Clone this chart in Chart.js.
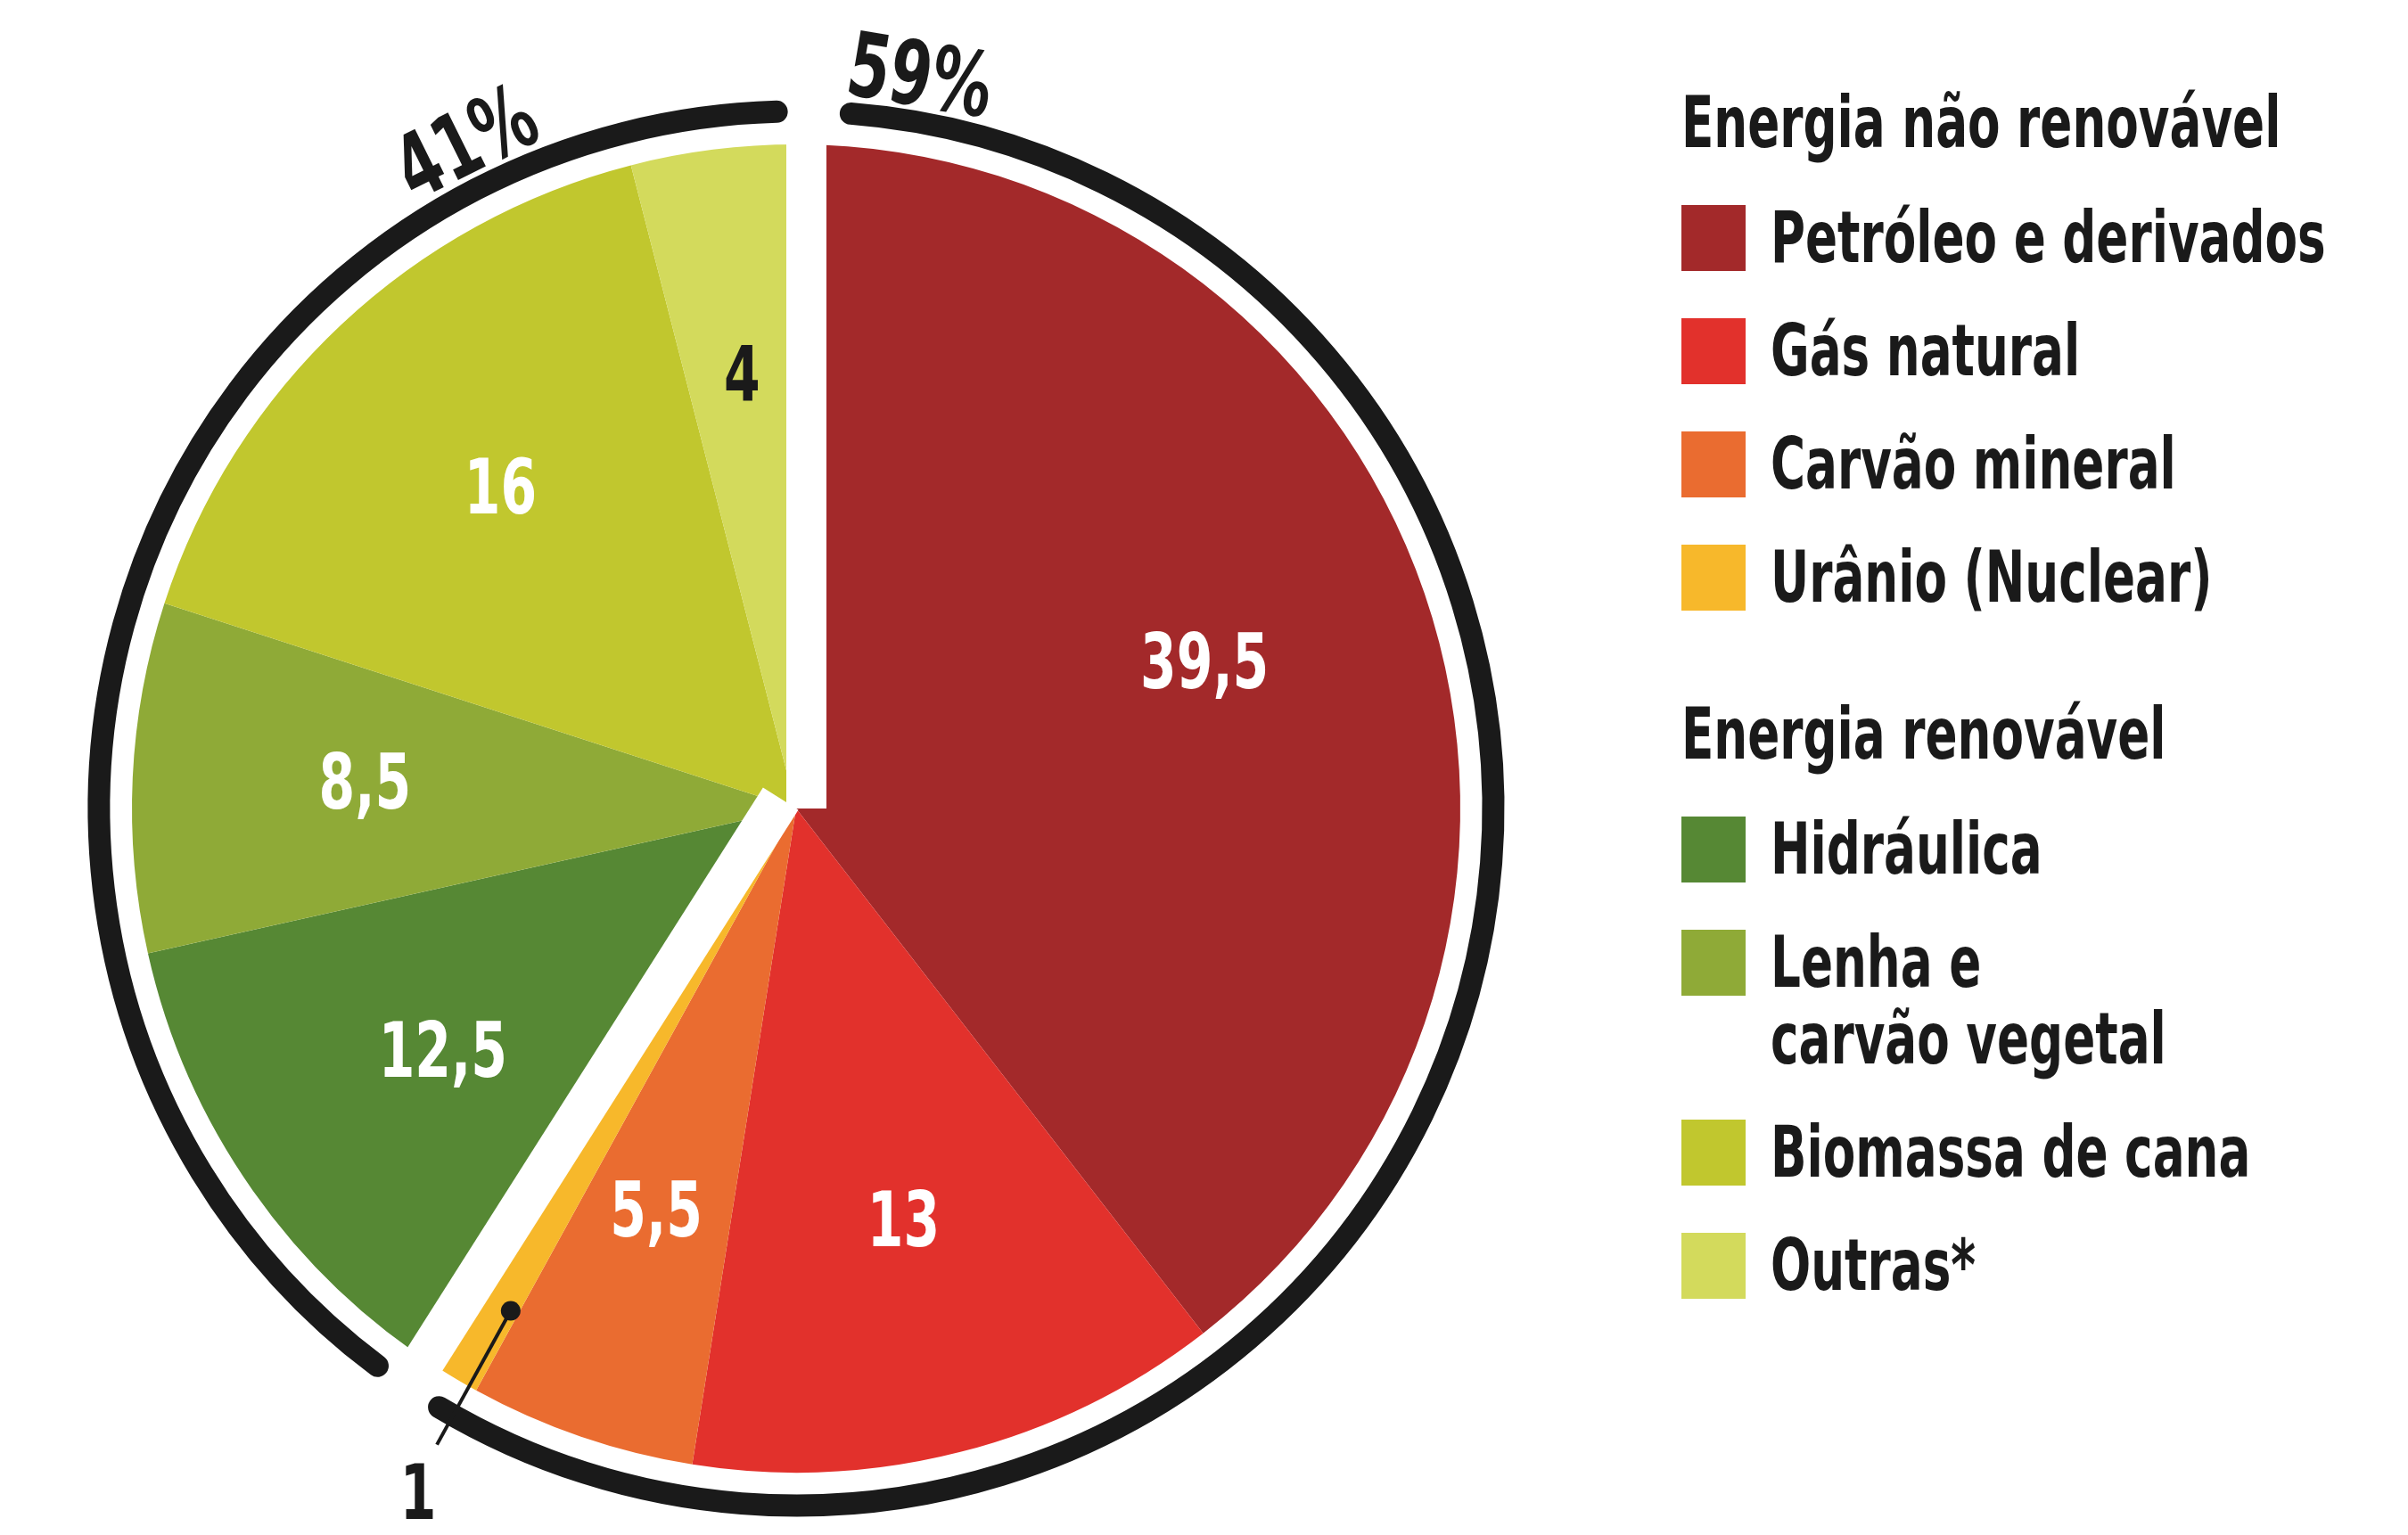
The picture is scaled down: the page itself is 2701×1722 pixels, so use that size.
<!DOCTYPE html>
<html>
<head>
<meta charset="utf-8">
<script src="https://cdn.jsdelivr.net/npm/chart.js@4.4.1/dist/chart.umd.min.js"></script>
<style>
  html, body { margin: 0; padding: 0; background: #fff; }
  body { width: 2701px; height: 1722px; position: relative; overflow: hidden; }
  #chart { position: absolute; left: 0; top: 0; }
  #legend {
    position: absolute; left: 1886px; top: 95px;
    font-family: "DejaVu Sans", "Liberation Sans", sans-serif;
    font-weight: bold; color: #1a1a1a; font-size: 80px;
  }
  .head { line-height: 86px; height: 86px; margin-bottom: 43px; }
  .head.second { margin-top: 90px; }
  .row { display: flex; align-items: flex-start; margin-bottom: 41px; }
  .sw { width: 72px; height: 74px; margin-top: 6px; flex: none; }
  .txt { margin-left: 28px; line-height: 86px; }
  .cond { display: inline-block; white-space: pre; transform: scaleX(0.665); transform-origin: 0 0; }
</style>
</head>
<body>
<canvas id="chart" width="2701" height="1722"></canvas>
<div id="legend"></div>
<script>
// dados: matriz energética (%)
const labels = ['Petróleo e derivados', 'Gás natural', 'Carvão mineral', 'Urânio (Nuclear)',
                'Hidráulica', 'Lenha e\ncarvão vegetal', 'Biomassa de cana', 'Outras*'];
const values = [39.5, 13, 5.5, 1, 12.5, 8.5, 16, 4];
const groupNames = ['Energia não renovável', 'Energia renovável'];
const groupOf = [0, 0, 0, 0, 1, 1, 1, 1];
const groupTotals = [59, 41];

const colors = ['#a3292a', '#e2312c', '#ea6c30', '#f7b82b', '#568834', '#8faa37', '#c1c72e', '#d3da5c'];
const inkColors = ['#fff', '#fff', '#fff', '#1a1a1a', '#fff', '#fff', '#fff', '#1a1a1a'];
const FONT = '"DejaVu Sans", "Liberation Sans", sans-serif';
const INK = '#1a1a1a';
const NARROW = 0.68;   // fonte condensada simulada

const fmt = v => v.toLocaleString('pt-BR');

// legenda em HTML, com os dois grupos
const legend = document.getElementById('legend');
const condText = (el, s) => {
    const sp = document.createElement('span');
    sp.className = 'cond';
    sp.textContent = s;
    el.appendChild(sp);
};
groupNames.forEach((g, gi) => {
    const h = document.createElement('div');
    h.className = 'head' + (gi > 0 ? ' second' : '');
    condText(h, g);
    legend.appendChild(h);
    labels.forEach((lab, i) => {
        if (groupOf[i] !== gi) return;
        const row = document.createElement('div');
        row.className = 'row';
        const sw = document.createElement('div');
        sw.className = 'sw';
        sw.style.background = colors[i];
        const t = document.createElement('div');
        t.className = 'txt';
        condText(t, lab);
        row.appendChild(sw);
        row.appendChild(t);
        legend.appendChild(row);
    });
});

const deg = Math.PI / 180;

function narrowText(ctx, s, x, y, rot) {
    ctx.save();
    ctx.translate(x, y);
    if (rot) ctx.rotate(rot);
    ctx.scale(NARROW, 1);
    ctx.fillText(s, 0, 0);
    ctx.restore();
}

// separa os grupos, desenha o arco preto e os rótulos
const pieDecor = {
    id: 'pieDecor',
    afterDatasetsDraw(chart) {
        const ctx = chart.ctx;
        const arcs = chart.getDatasetMeta(0).data;
        const cx = arcs[0].x, cy = arcs[0].y, R = arcs[0].outerRadius;
        const firstOf = gi => groupOf.indexOf(gi);
        const lastOf = gi => groupOf.lastIndexOf(gi);
        const starts = [arcs[firstOf(0)].startAngle, arcs[firstOf(1)].startAngle];

        ctx.save();
        // faixas brancas entre os grupos (deslocadas para o lado da fatia seguinte)
        const stripEdges = [[-11, 34], [-3, 44]];
        ctx.fillStyle = '#fff';
        starts.forEach((a, k) => {
            const [lo, hi] = stripEdges[k];
            const dx = Math.cos(a), dy = Math.sin(a);
            const nx = -dy, ny = dx;
            const len = R + 15;
            ctx.beginPath();
            ctx.moveTo(cx + nx * lo, cy + ny * lo);
            ctx.lineTo(cx + nx * hi, cy + ny * hi);
            ctx.lineTo(cx + nx * hi + dx * len, cy + ny * hi + dy * len);
            ctx.lineTo(cx + nx * lo + dx * len, cy + ny * lo + dy * len);
            ctx.closePath();
            ctx.fill();
        });

        // arcos pretos de cada grupo
        const ringR = R + 37;
        const gapAfter = 4.5 * deg, gapBefore = 1.6 * deg;
        ctx.strokeStyle = INK;
        ctx.lineWidth = 25;
        ctx.lineCap = 'round';
        [0, 1].forEach(gi => {
            ctx.beginPath();
            ctx.arc(cx, cy, ringR, arcs[firstOf(gi)].startAngle + gapAfter, arcs[lastOf(gi)].endAngle - gapBefore);
            ctx.stroke();
        });

        // totais dos grupos, ao longo do arco
        ctx.fillStyle = INK;
        ctx.font = 'bold 100px ' + FONT;
        ctx.textAlign = 'center';
        ctx.textBaseline = 'alphabetic';
        const totalAngles = [arcs[firstOf(0)].startAngle + 9.6 * deg, arcs[lastOf(1)].endAngle - 26.4 * deg];
        groupTotals.forEach((v, gi) => {
            const a = totalAngles[gi];
            const rr = R + 55;
            narrowText(ctx, v + '%', cx + Math.cos(a) * rr, cy + Math.sin(a) * rr, a + Math.PI / 2);
        });

        // valores nas fatias
        ctx.font = 'bold 86px ' + FONT;
        ctx.textBaseline = 'middle';
        arcs.forEach((arc, i) => {
            const mid = (arc.startAngle + arc.endAngle) / 2;
            if (values[i] < 2) {
                // fatia pequena: ponto, linha e rótulo por fora
                const a0 = mid - 1.0 * deg, a1 = mid - 1.15 * deg, a2 = mid - 1.9 * deg;
                const p0 = [cx + Math.cos(a0) * R * 0.87, cy + Math.sin(a0) * R * 0.87];
                const p1 = [cx + Math.cos(a1) * R * 1.1, cy + Math.sin(a1) * R * 1.1];
                ctx.strokeStyle = INK;
                ctx.lineWidth = 4;
                ctx.lineCap = 'butt';
                ctx.beginPath();
                ctx.moveTo(p0[0], p0[1]);
                ctx.lineTo(p1[0], p1[1]);
                ctx.stroke();
                ctx.beginPath();
                ctx.arc(p0[0], p0[1], 11, 0, 2 * Math.PI);
                ctx.fillStyle = INK;
                ctx.fill();
                narrowText(ctx, fmt(values[i]), cx + Math.cos(a2) * R * 1.185, cy + Math.sin(a2) * R * 1.185);
                return;
            }
            ctx.fillStyle = inkColors[i];
            narrowText(ctx, fmt(values[i]), cx + Math.cos(mid) * R * 0.65, cy + Math.sin(mid) * R * 0.65);
        });
        ctx.restore();
    }
};

new Chart(document.getElementById('chart').getContext('2d'), {
    type: 'pie',
    data: {
        labels: labels,
        datasets: [{
            data: values,
            backgroundColor: colors,
            borderWidth: 0,
            hoverOffset: 0
        }]
    },
    options: {
        responsive: false,
        animation: false,
        layout: { padding: { left: 148, top: 162, right: 1063, bottom: 70 } },
        plugins: {
            legend: { display: false },
            tooltip: { enabled: false }
        }
    },
    plugins: [pieDecor]
});
</script>
</body>
</html>
